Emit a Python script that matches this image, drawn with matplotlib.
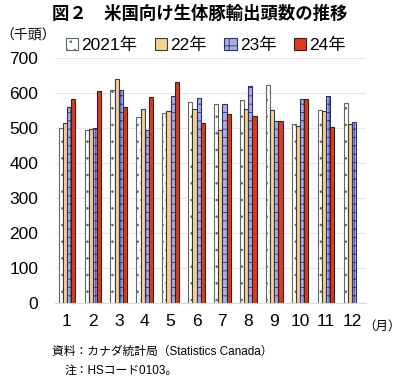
import matplotlib
matplotlib.use("Agg")
import matplotlib.pyplot as plt
import numpy as np

plt.rcParams['font.family'] = ['Liberation Sans', 'Noto Sans CJK JP', 'DejaVu Sans']
plt.rcParams['hatch.linewidth'] = 0.6

months = [1, 2, 3, 4, 5, 6, 7, 8, 9, 10, 11, 12]
labels = ['2021年', '22年', '23年', '24年']
y2021 = [500, 495, 610, 533, 543, 574, 569, 582, 623, 511, 551, 573]
y2022 = [515, 499, 640, 556, 550, 555, 494, 554, 553, 506, 549, 513]
y2023 = [560, 502, 610, 495, 592, 587, 569, 621, 522, 583, 593, 519]
y2024 = [584, 606, 561, 589, 633, 515, 541, 535, 522, 585, 504, np.nan]

styles = [
    dict(facecolor='white', edgecolor='#5a6a6a', hatch='..'),
    dict(facecolor='#f6d08e', edgecolor='#3a3a3a', hatch=None),
    dict(facecolor='#aab0dc', edgecolor='#2a2f7a', hatch='++'),
    dict(facecolor='#e03a1c', edgecolor='#3a2020', hatch=None),
]

fig = plt.figure(figsize=(4.0, 3.78), dpi=100)
ax = fig.add_axes([0.1375, 0.1976, 0.7775, 0.6482])

x = np.array(months, dtype=float)
w = 0.16
offsets = [-0.24, -0.08, 0.08, 0.24]
for vals, off, st, lab in zip([y2021, y2022, y2023, y2024], offsets, styles, labels):
    ax.bar(x + off, vals, width=w, linewidth=0.8, label=lab, **st)

ax.set_xlim(0.54, 12.54)
ax.set_ylim(0, 700)
ax.set_yticks(range(0, 701, 100))
ax.set_xticks(months)
ax.tick_params(length=0, labelsize=12.5, pad=8)
ax.tick_params(axis='y', pad=12)
ax.grid(axis='y', color='#e6e6e6', linewidth=0.8)
ax.set_axisbelow(True)
for s in ['top', 'right', 'left']:
    ax.spines[s].set_visible(False)
ax.spines['bottom'].set_color('#d9d9d9')

fig.text(0.5, 0.965, '図２　米国向け生体豚輸出頭数の推移', ha='center', va='center',
         fontsize=12.5, fontweight='bold')
fig.text(0.0, 0.905, '（千頭）', ha='left', va='center', fontsize=10)
fig.text(0.908, 0.135, '（月）', ha='left', va='center', fontsize=9)
fig.text(0.13, 0.068, '資料：カナダ統計局（Statistics Canada）', ha='left', va='center', fontsize=8.5)
fig.text(0.162, 0.02, '注：HSコード0103。', ha='left', va='center', fontsize=8.5)

fig.legend(loc='center', bbox_to_anchor=(0.515, 0.88), ncol=4, frameon=False,
           fontsize=12.5, handlelength=0.7, handleheight=0.7, handletextpad=0.2,
           columnspacing=1.0, borderaxespad=0)

fig.savefig('out.png', dpi=100)
